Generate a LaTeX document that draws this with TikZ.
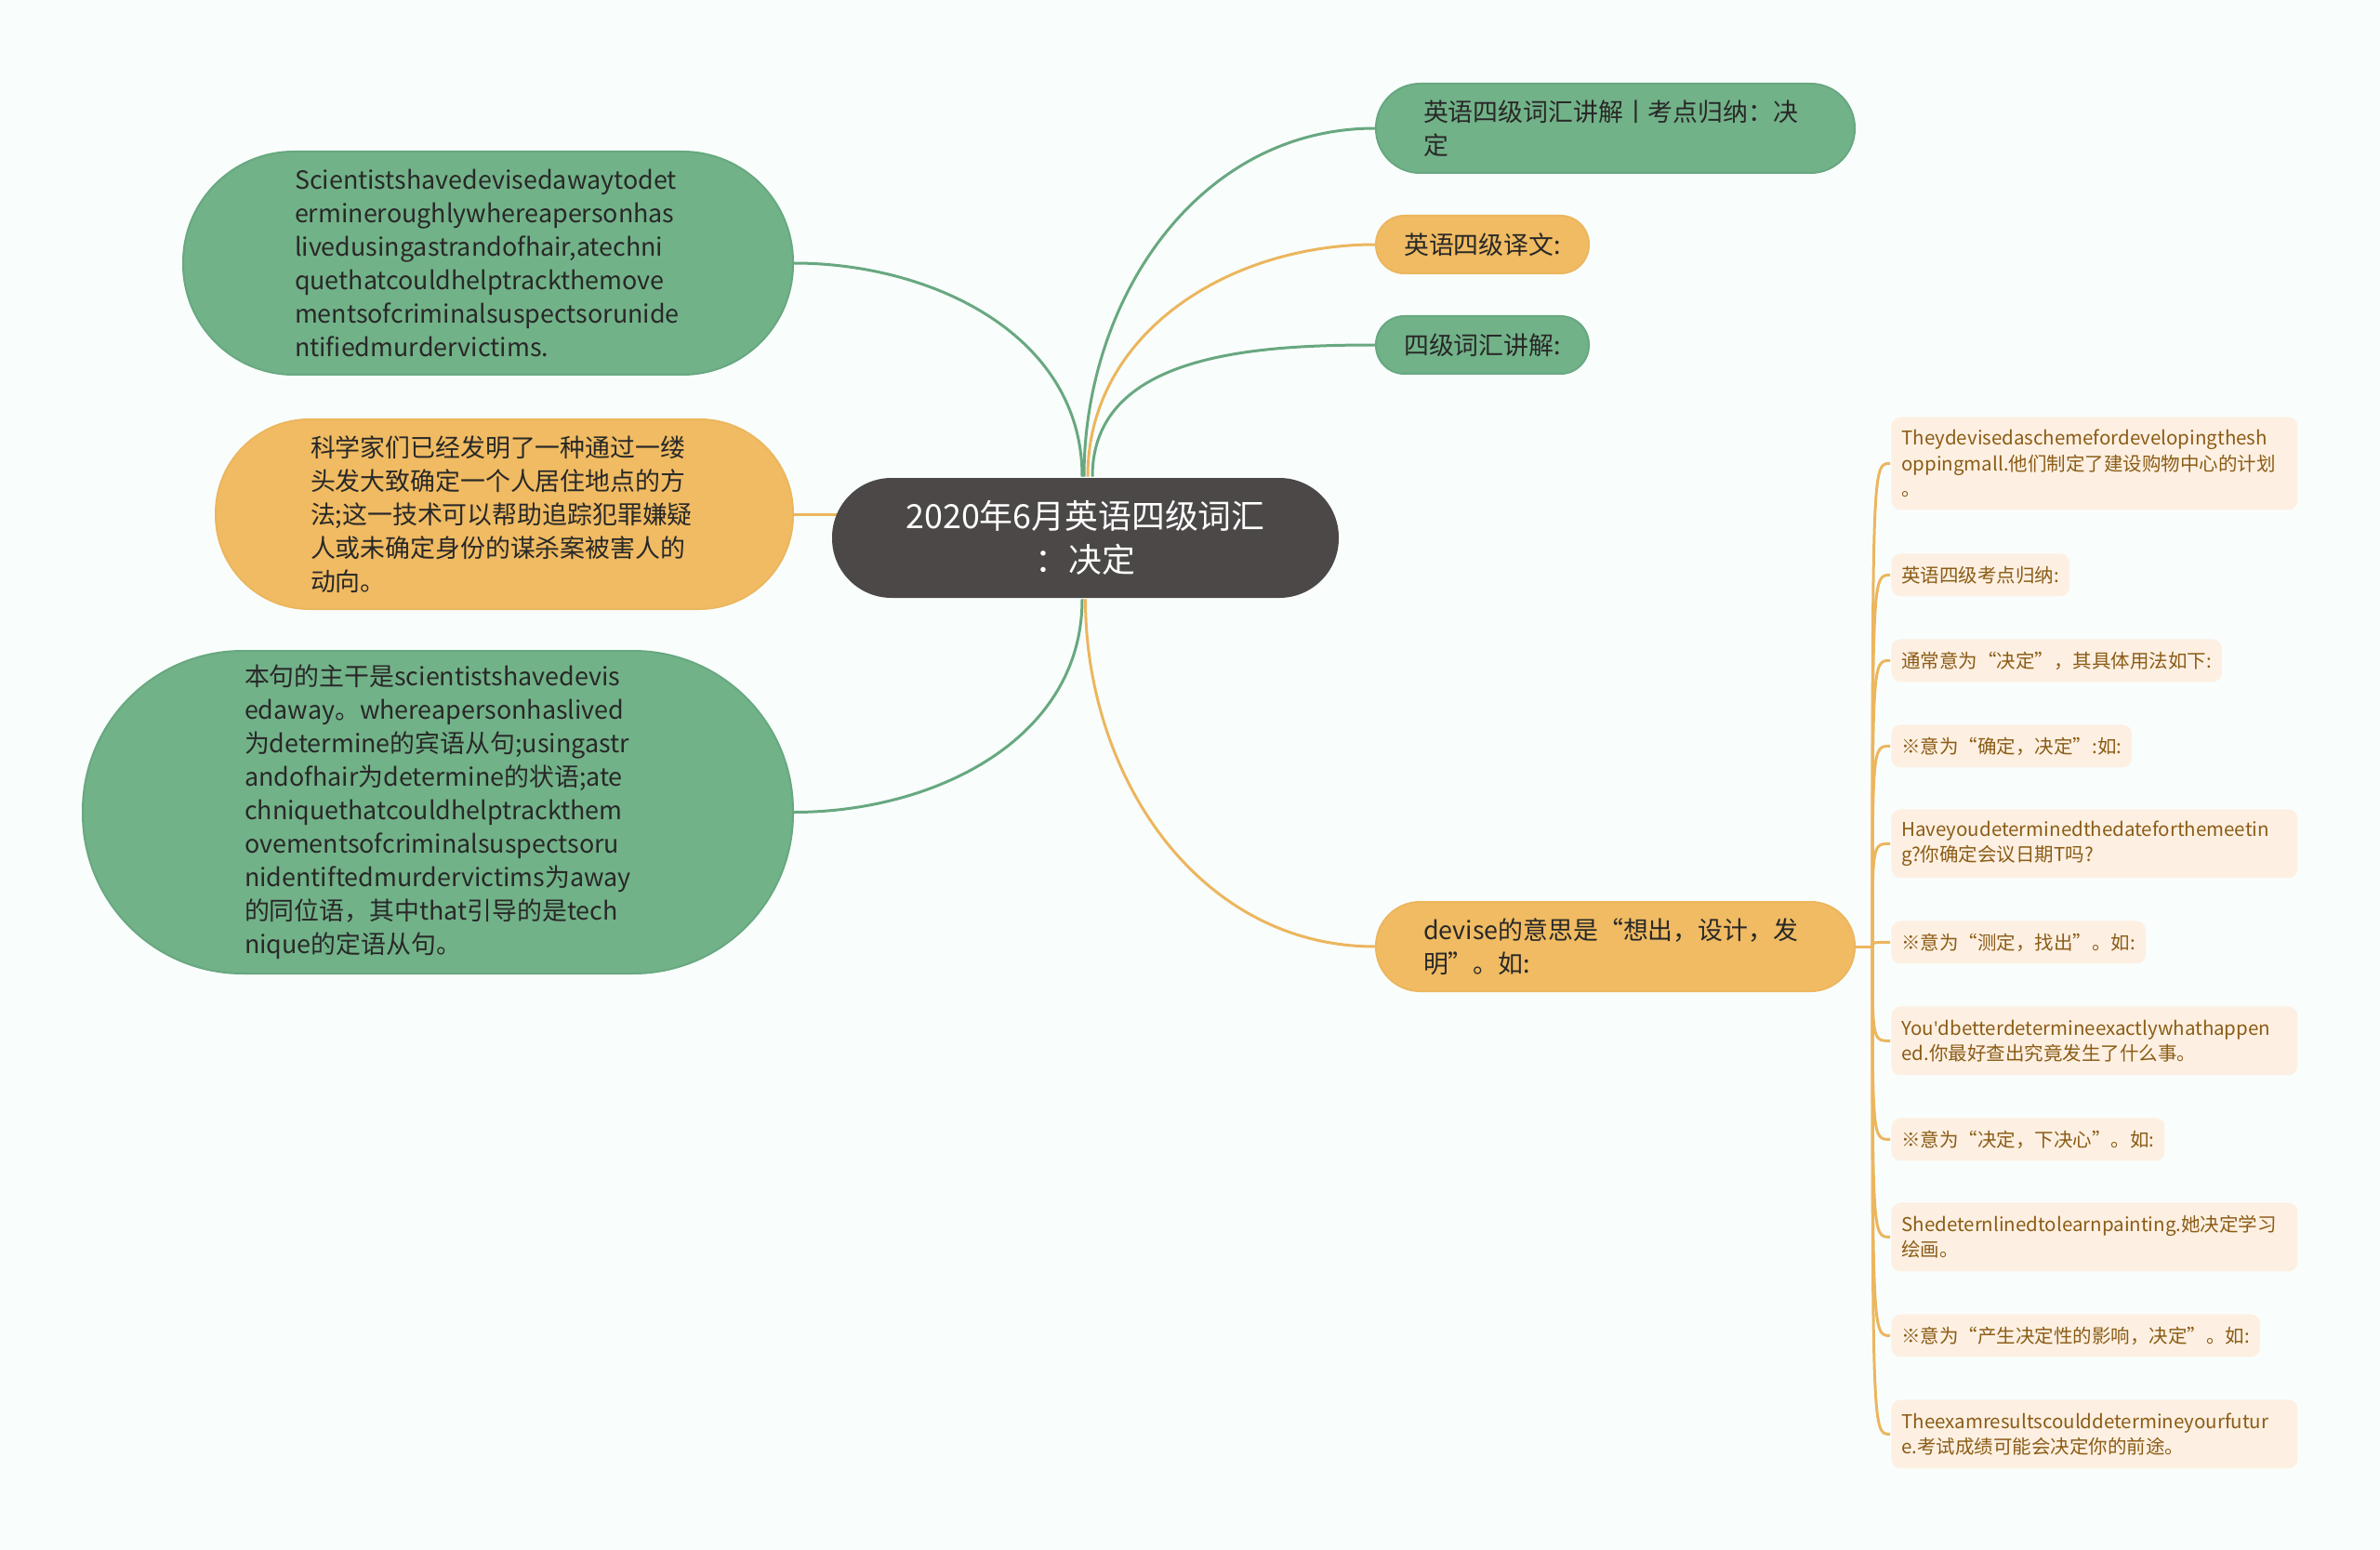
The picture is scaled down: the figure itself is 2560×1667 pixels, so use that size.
\documentclass[tikz,border=0pt]{standalone}
\usepackage{fontspec}
\setmainfont{Noto Sans CJK SC}
\newfontfamily\aposfont{Open Sans}
\usetikzlibrary{positioning, backgrounds}

\definecolor{bgmint}{RGB}{249,254,253}
\definecolor{mapgreen}{RGB}{114,178,136}
\definecolor{mapgreenline}{RGB}{104,168,128}
\definecolor{maporange}{RGB}{240,187,98}
\definecolor{maporangeline}{RGB}{236,182,94}
\definecolor{rootgray}{RGB}{76,72,72}
\definecolor{inkdark}{RGB}{40,40,40}
\definecolor{leafcream}{RGB}{253,240,226}
\definecolor{leafbrown}{RGB}{139,92,22}

\hyphenpenalty=10000

\begin{document}
\begin{tikzpicture}[x=0.1mm, y=0.1mm, node distance=4.6mm, thick,
  topic/.style={fill=rootgray, text=white, rounded corners=6.4mm, minimum width=54.5mm, minimum height=12.9mm, align=center, font=\fontsize{10.2pt}{13.4pt}\selectfont},
  greenbox/.style={fill=mapgreen, draw=mapgreenline, line width=0.2mm, text=inkdark, align=left, inner ysep=0.5mm, font=\fontsize{7.65pt}{10.24pt}\selectfont},
  orangebox/.style={fill=maporange, draw=maporangeline, line width=0.2mm, text=inkdark, align=left, inner ysep=0.5mm, font=\fontsize{7.65pt}{10.24pt}\selectfont},
  leafbox/.style={fill=leafcream, text=leafbrown, rounded corners=1mm, align=left, anchor=north west, inner xsep=1.1mm, inner ysep=0.5mm, minimum height=4.6mm, font=\fontsize{5.83pt}{7.8pt}\selectfont},
  greenline/.style={draw=mapgreenline, line width=0.3mm},
  orangeline/.style={draw=maporangeline, line width=0.3mm}]

  \useasboundingbox (0,0) rectangle (2560,-1667);

  % centre
  \node [topic] (root) at (1167.5,-578.5) {2020年6月英语四级词汇\\：决定};

  % left side
  \node [greenbox, anchor=east, text width=41.6mm, inner xsep=12mm, minimum height=24mm, rounded corners=11.9mm] (engsent) at (854,-283)
    {Scientistshavedevisedawaytodet\\ermineroughlywhereapersonhas\\livedusingastrandofhair,atechni\\quethatcouldhelptrackthemove\\mentsofcriminalsuspectsorunide\\ntifiedmurdervictims.};
  \node [orangebox, anchor=east, text width=41.7mm, inner xsep=10.2mm, minimum height=20.4mm, rounded corners=10.1mm] (cnsent) at (854,-553)
    {科学家们已经发明了一种通过一缕\\头发大致确定一个人居住地点的方\\法;这一技术可以帮助追踪犯罪嫌疑\\人或未确定身份的谋杀案被害人的\\动向。};
  \node [greenbox, anchor=east, text width=41.6mm, inner xsep=17.4mm, minimum height=34.7mm, rounded corners=17.2mm] (grammar) at (854,-873.5)
    {本句的主干是scientistshavedevis\\edaway。whereapersonhaslived\\为determine的宾语从句;usingastr\\andofhair为determine的状语;ate\\chniquethatcouldhelptrackthem\\ovementsofcriminalsuspectsoru\\nidentiftedmurdervictims为away\\的同位语，其中that引导的是tech\\nique的定语从句。};

  % right side
  \node [greenbox, anchor=west, text width=41.3mm, inner xsep=5.1mm, minimum height=9.6mm, rounded corners=4.75mm] (title) at (1479,-138)
    {英语四级词汇讲解丨考点归纳：决\\定};
  \node [orangebox, anchor=west, inner xsep=3mm, minimum width=22.9mm, minimum height=6.2mm, rounded corners=3.05mm] (yiwen) at (1479,-263) {英语四级译文:};
  \node [greenbox, anchor=west, inner xsep=3mm, minimum width=22.9mm, minimum height=6.2mm, rounded corners=3.05mm] (cihui) at (1479,-371) {四级词汇讲解:};
  \node [orangebox, anchor=west, text width=41.3mm, inner xsep=5.1mm, minimum height=9.6mm, rounded corners=4.75mm] (devise) at (1479,-1018)
    {devise的意思是“想出，设计，发\\明”。如:};
  \coordinate [right=1.8mm of devise] (fork);

  % leaves of devise
  \node [leafbox, text width=41.5mm, minimum height=10mm] (scheme) at (2033,-447)
    {Theydevisedaschemefordevelopingthesh\\oppingmall.他们制定了建设购物中心的计划\\。};
  \node [leafbox] (kaodian) at (2033,-594) {英语四级考点归纳:};
  \node [leafbox] (usage) at (2033,-686) {通常意为“决定”，其具体用法如下:};
  \node [leafbox] (senseone) at (2033,-778) {※意为“确定，决定”:如:};
  \node [leafbox, text width=41.5mm, minimum height=7.4mm] (meeting) at (2033,-869)
    {Haveyoudeterminedthedateforthemeetin\\g?你确定会议日期T吗?};
  \node [leafbox] (sensetwo) at (2033,-989) {※意为“测定，找出”。如:};
  \node [leafbox, text width=41.5mm, minimum height=7.4mm] (happen) at (2033,-1081)
    {You{\aposfont'}dbetterdetermineexactlywhathappen\\ed.你最好查出究竟发生了什么事。};
  \node [leafbox] (sensethree) at (2033,-1201) {※意为“决定，下决心”。如:};
  \node [leafbox, text width=41.5mm, minimum height=7.4mm] (paint) at (2033,-1292)
    {Shedeternlinedtolearnpainting.她决定学习\\绘画。};
  \node [leafbox] (sensefour) at (2033,-1412) {※意为“产生决定性的影响，决定”。如:};
  \node [leafbox, text width=41.5mm, minimum height=7.4mm] (exam) at (2033,-1504)
    {Theexamresultscoulddetermineyourfutur\\e.考试成绩可能会决定你的前途。};

  \begin{pgfonlayer}{background}
    \fill [bgmint] (0,0) rectangle (2560,-1667);
    % branches from the centre
    \draw [greenline] ([xshift=-0.35mm]root.north) to[out=90, in=0] (engsent.east);
    \draw [orangeline] (cnsent.east) -- ([xshift=2mm]cnsent.east -| root.west);
    \draw [greenline] ([xshift=-0.35mm]root.south) to[out=-90, in=0] (grammar.east);
    \draw [greenline] ([xshift=-0.15mm]root.north) to[out=90, in=180] (title.west);
    \draw [orangeline] ([xshift=0.25mm]root.north) to[out=90, in=180] (yiwen.west);
    \draw [greenline] ([xshift=0.75mm]root.north) to[out=90, in=180] (cihui.west);
    \draw [orangeline] (root.south) to[out=-90, in=180] (devise.west);
    % leaf connectors
    \draw [orangeline] (devise) -- (fork);
    \draw [orangeline] (fork) .. controls (fork |- scheme.west) .. (scheme.west);
    \draw [orangeline] (fork) .. controls (fork |- kaodian.west) .. (kaodian.west);
    \draw [orangeline] (fork) .. controls (fork |- usage.west) .. (usage.west);
    \draw [orangeline] (fork) .. controls (fork |- senseone.west) .. (senseone.west);
    \draw [orangeline] (fork) .. controls (fork |- meeting.west) .. (meeting.west);
    \draw [orangeline] (fork) .. controls (fork |- sensetwo.west) .. (sensetwo.west);
    \draw [orangeline] (fork) .. controls (fork |- happen.west) .. (happen.west);
    \draw [orangeline] (fork) .. controls (fork |- sensethree.west) .. (sensethree.west);
    \draw [orangeline] (fork) .. controls (fork |- paint.west) .. (paint.west);
    \draw [orangeline] (fork) .. controls (fork |- sensefour.west) .. (sensefour.west);
    \draw [orangeline] (fork) .. controls (fork |- exam.west) .. (exam.west);
  \end{pgfonlayer}
\end{tikzpicture}
\end{document}
